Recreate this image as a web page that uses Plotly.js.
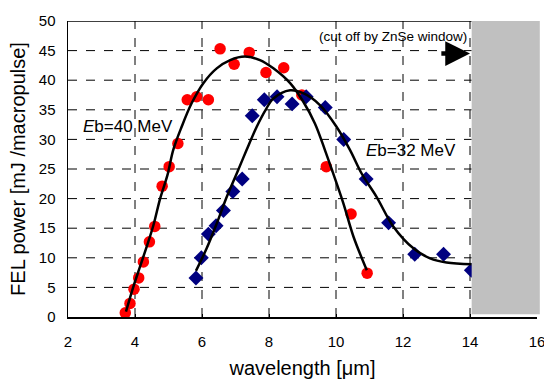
<!DOCTYPE html>
<html>
<head>
<meta charset="utf-8">
<script src="https://cdn.plot.ly/plotly-3.0.1.min.js"></script>
<style>html,body{margin:0;padding:0;background:#fff;}#chart{width:544px;height:379px;}</style>
</head>
<body>
<div id="chart"></div>
<script>
// Eb = 40 MeV measured points
const red_wl = [3.71, 3.85, 3.97, 4.11, 4.25, 4.43, 4.59, 4.81, 5.02, 5.28, 5.56, 5.84, 6.19, 6.54, 6.96, 7.41, 7.91, 8.44, 8.98, 9.71, 10.45, 10.93];
const red_pw = [0.7, 2.3, 4.7, 6.6, 9.3, 12.7, 15.3, 22.1, 25.4, 29.3, 36.7, 37.2, 36.7, 45.3, 42.7, 44.7, 41.3, 42.1, 37.5, 25.4, 17.4, 7.4];
// Eb = 40 MeV fit curve
const red_fit_wl = [3.73, 3.95, 4.15, 4.35, 4.55, 4.75, 4.97, 5.14, 5.39, 5.69, 6.04, 6.44, 6.84, 7.28, 7.73, 8.13, 8.63, 9.02, 9.37, 9.67, 9.9, 10.22, 10.52, 10.92];
const red_fit_pw = [0.9, 5.1, 8.5, 11.9, 15.5, 20.0, 24.0, 28.2, 32.1, 36.1, 39.5, 42.0, 43.4, 44.0, 43.4, 42.0, 39.5, 36.4, 32.7, 28.2, 24.5, 19.2, 13.6, 7.9];
// Eb = 32 MeV measured points
const blue_wl = [5.82, 5.98, 6.19, 6.42, 6.64, 6.92, 7.2, 7.5, 7.86, 8.24, 8.69, 9.11, 9.68, 10.23, 10.9, 11.57, 12.35, 13.21, 14.04];
const blue_pw = [6.6, 10.0, 14.0, 15.4, 18.0, 21.2, 23.3, 34.0, 36.7, 37.2, 36.0, 37.2, 35.4, 30.0, 23.3, 15.9, 10.6, 10.6, 7.9];
// Eb = 32 MeV fit curve
const blue_fit_wl = [5.82, 6.14, 6.44, 6.74, 7.04, 7.33, 7.63, 7.9, 8.13, 8.63, 9.02, 9.52, 10.02, 10.42, 10.77, 11.21, 11.71, 12.31, 12.81, 13.3, 14.05];
const blue_fit_pw = [7.8, 11.6, 15.8, 20.3, 24.3, 28.2, 32.1, 35.0, 36.9, 38.3, 37.8, 35.8, 32.1, 28.2, 24.2, 20.3, 15.3, 11.6, 9.9, 9.2, 8.9];

const xTicks = [2, 4, 6, 8, 10, 12, 14, 16];
const yTicks = [0, 5, 10, 15, 20, 25, 30, 35, 40, 45, 50];

const FONT = 'Arial, "Liberation Sans", sans-serif';
const X_MIN = 2, X_MAX = 16, Y_MIN = 0, Y_MAX = 50;
const CUTOFF = 14.05;

// dashed grid drawn as one line trace built from the tick arrays (under the markers)
const gridX = [], gridY = [];
xTicks.filter(v => v > X_MIN && v < X_MAX).forEach(v => { gridX.push(v, v, null); gridY.push(Y_MIN, Y_MAX, null); });
yTicks.filter(v => v > Y_MIN && v < Y_MAX).forEach(v => { gridX.push(X_MIN, CUTOFF, null); gridY.push(v, v, null); });

const traces = [
  {x: gridX, y: gridY, mode: 'lines', type: 'scatter', name: 'grid', hoverinfo: 'skip',
   line: {color: '#000', width: 1, dash: 'dash'}},
  {x: red_wl, y: red_pw, mode: 'markers', type: 'scatter', name: 'Eb=40 MeV',
   marker: {symbol: 'circle', size: 11.5, color: '#FF0000'}},
  {x: blue_wl, y: blue_pw, mode: 'markers', type: 'scatter', name: 'Eb=32 MeV',
   marker: {symbol: 'diamond', size: 11.5, color: '#000080'}},
  {x: red_fit_wl, y: red_fit_pw, mode: 'lines', type: 'scatter', name: 'fit 40',
   line: {color: '#000', width: 2.5, shape: 'spline', smoothing: 1}},
  {x: blue_fit_wl, y: blue_fit_pw, mode: 'lines', type: 'scatter', name: 'fit 32',
   line: {color: '#000', width: 2.5, shape: 'spline', smoothing: 1}}
];

const layout = {
  width: 544, height: 379,
  margin: {l: 68, r: 7, t: 21, b: 62},
  showlegend: false,
  font: {family: FONT, color: '#000', size: 15},
  xaxis: {
    range: [X_MIN, X_MAX], tickvals: xTicks, ticktext: xTicks.map(String),
    showgrid: false, zeroline: false, showline: true, linecolor: '#000', linewidth: 1.5,
    ticks: 'inside', ticklen: 3, tickcolor: '#000',
    tickfont: {size: 15, family: FONT}, ticklabelstandoff: 10, ticklabeloverflow: 'allow',
    title: {text: 'wavelength [\u03bcm]', font: {size: 20, family: FONT}, standoff: 14}
  },
  yaxis: {
    range: [Y_MIN, Y_MAX], tickvals: yTicks, ticktext: yTicks.map(String),
    showgrid: false, zeroline: false, showline: true, linecolor: '#000', linewidth: 1.5,
    ticks: '', tickfont: {size: 15, family: FONT}, ticklabelstandoff: 8,
    title: {text: 'FEL power [mJ /macropulse]', font: {size: 20, family: FONT}, standoff: 8}
  },
  shapes: [
    {type: 'line', xref: 'x', yref: 'y', x0: X_MIN, x1: CUTOFF, y0: Y_MAX, y1: Y_MAX,
     line: {color: '#000', width: 1.5}},
    {type: 'rect', xref: 'paper', yref: 'y', x0: (CUTOFF - X_MIN) / (X_MAX - X_MIN), x1: 1.006, y0: 0.45, y1: 50.2,
     fillcolor: '#C0C0C0', line: {width: 0}, layer: 'above'}
  ],
  annotations: [
    {x: 2.4, y: 32.2, xref: 'x', yref: 'y', xanchor: 'left', yanchor: 'middle', showarrow: false,
     text: '<i>E</i>b=40 MeV', font: {size: 17, family: FONT}},
    {x: 10.83, y: 28.2, xref: 'x', yref: 'y', xanchor: 'left', yanchor: 'middle', showarrow: false,
     text: '<i>E</i>b=32 MeV', font: {size: 17, family: FONT}},
    {x: 13.98, y: 47.3, xref: 'x', yref: 'y', xanchor: 'right', yanchor: 'middle', showarrow: false,
     text: '(cut off by ZnSe window)', font: {size: 13.5, family: FONT}},
    {x: 14.0, y: 44.5, ax: 13.1, ay: 44.5, xref: 'x', yref: 'y', axref: 'x', ayref: 'y',
     text: '', showarrow: true, arrowhead: 2, arrowsize: 1.1, arrowwidth: 4.5, arrowcolor: '#000'}
  ]
};

Plotly.newPlot('chart', traces, layout, {staticPlot: true, displayModeBar: false});
</script>
</body>
</html>
